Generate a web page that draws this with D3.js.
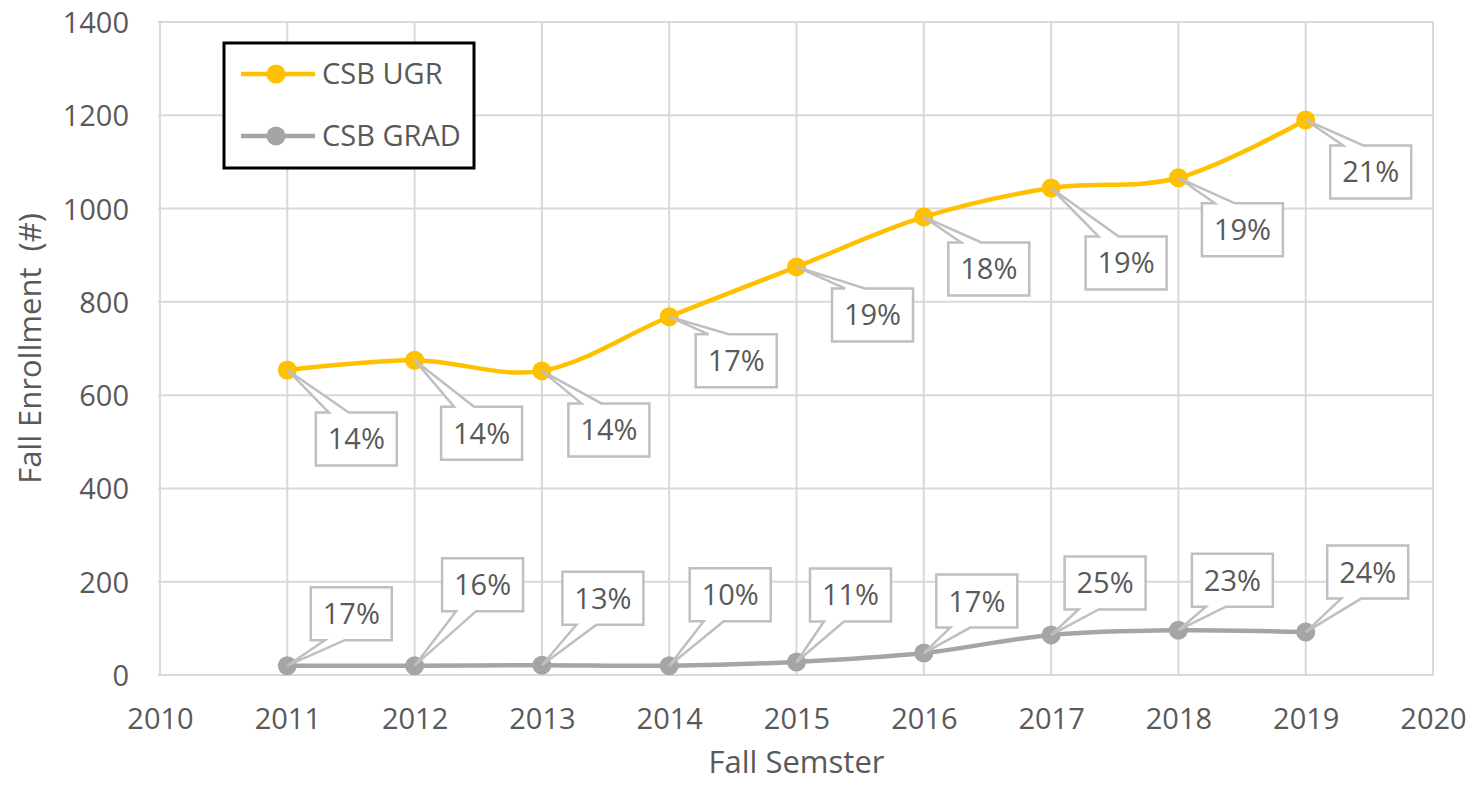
<!DOCTYPE html>
<html>
<head>
<meta charset="utf-8">
<script src="https://cdn.jsdelivr.net/npm/d3@7"></script>
<style>
  html, body { margin: 0; padding: 0; background: #fff; }
  svg text { font-family: "Open Sans", "DejaVu Sans", sans-serif; fill: #595959; }
</style>
</head>
<body>
<svg id="chart" width="1477" height="788"></svg>
<script>
// ---- data ----
const years = [2011, 2012, 2013, 2014, 2015, 2016, 2017, 2018, 2019];
const ugrValues = [654, 675, 652, 768, 875, 982, 1044, 1066, 1190];
const gradValues = [20, 20, 21, 20, 28, 47, 86, 96, 92];
const ugrShares = ["14%", "14%", "14%", "17%", "19%", "18%", "19%", "19%", "21%"];
const gradShares = ["17%", "16%", "13%", "10%", "11%", "17%", "25%", "23%", "24%"];
const xTicks = [2010, 2011, 2012, 2013, 2014, 2015, 2016, 2017, 2018, 2019, 2020];
const yTicks = [0, 200, 400, 600, 800, 1000, 1200, 1400];
const seriesNames = ["CSB UGR", "CSB GRAD"];

// ---- layout (label callout offsets in px, relative to the point) ----
const ugrLabelDx = [69, 67, 67, 67, 76, 65, 75, 64, 65];
const ugrLabelDy = [69, 73, 59, 44, 48, 52, 75, 52, 52];
const gradLabelDx = [64, 68, 61, 61, 54, 53, 54, 54, 62];
const gradLabelDy = [-52, -81, -67, -71, -67, -52, -52, -50, -60];

const colors = { ugr: "#FFC000", grad: "#A5A5A5" };
const plot = { left: 160, right: 1433, top: 22, bottom: 675 };

const svg = d3.select("#chart");
const x = d3.scaleLinear().domain([2010, 2020]).range([plot.left, plot.right]);
const y = d3.scaleLinear().domain([0, 1400]).range([plot.bottom, plot.top]);

// gridlines
const grid = svg.append("g");
grid.selectAll("line.v").data(xTicks).join("line")
  .attr("x1", d => x(d)).attr("x2", d => x(d))
  .attr("y1", plot.top).attr("y2", plot.bottom)
  .attr("stroke", "#D9D9D9").attr("stroke-width", 2);
grid.selectAll("line.h").data(yTicks).join("line")
  .attr("x1", plot.left - 2).attr("x2", plot.right)
  .attr("y1", d => y(d)).attr("y2", d => y(d))
  .attr("stroke", "#D9D9D9").attr("stroke-width", 2);

// axes using d3 axes (labels only)
const xAxis = svg.append("g").attr("transform", `translate(0,${plot.bottom})`)
  .call(d3.axisBottom(x).tickValues(xTicks).tickFormat(d3.format("d")).tickSize(0).tickPadding(33));
xAxis.select(".domain").remove();
xAxis.selectAll("text").style("font-size", "29px").attr("fill", "#595959");

const yAxis = svg.append("g").attr("transform", `translate(${plot.left},0)`)
  .call(d3.axisLeft(y).tickValues(yTicks).tickFormat(d3.format("d")).tickSize(0).tickPadding(31));
yAxis.select(".domain").remove();
yAxis.selectAll("text").style("font-size", "29px").attr("fill", "#595959").attr("dy", "0.36em");

// axis titles
svg.append("text").attr("x", (plot.left + plot.right) / 2).attr("y", 773)
  .attr("text-anchor", "middle").style("font-size", "31px").text("Fall Semster");
svg.append("text").attr("transform", `translate(41,${(plot.top + plot.bottom) / 2}) rotate(-90)`)
  .attr("text-anchor", "middle").style("font-size", "31px").attr("xml:space", "preserve")
  .text("Fall Enrollment\u00A0 (#)");

// lines
const line = d3.line().x(d => x(d[0])).y(d => y(d[1])).curve(d3.curveCatmullRom.alpha(0));
const ugrData = years.map((yr, i) => [yr, ugrValues[i]]);
const gradData = years.map((yr, i) => [yr, gradValues[i]]);

function drawSeries(data, color) {
  svg.append("path").datum(data).attr("d", line)
    .attr("fill", "none").attr("stroke", color).attr("stroke-width", 4.5)
    .attr("stroke-linejoin", "round").attr("stroke-linecap", "round");
  svg.append("g").selectAll("circle").data(data).join("circle")
    .attr("cx", d => x(d[0])).attr("cy", d => y(d[1])).attr("r", 9.5)
    .attr("fill", color);
}
drawSeries(gradData, colors.grad);
drawSeries(ugrData, colors.ugr);

// callout labels
const boxW = 81, boxH = 53;
function drawCallouts(data, texts, dxs, dys) {
  const g = svg.append("g");
  data.forEach((d, i) => {
    const px = x(d[0]), py = y(d[1]);
    const cx = px + dxs[i], cy = py + dys[i];
    const l = cx - boxW / 2, r = cx + boxW / 2, t = cy - boxH / 2, b = cy + boxH / 2;
    let p;
    if (dys[i] > 0) {
      // box below point: wedge on top edge
      p = `M${l},${t} L${l + 13},${t} L${px},${py} L${l + 33},${t} L${r},${t} L${r},${b} L${l},${b} Z`;
    } else {
      // box above point: wedge on bottom edge
      p = `M${l},${t} L${r},${t} L${r},${b} L${l + 34},${b} L${px},${py} L${l + 14},${b} L${l},${b} Z`;
    }
    g.append("path").attr("d", p).attr("fill", "#fff")
      .attr("stroke", "#BFBFBF").attr("stroke-width", 2.5).attr("stroke-linejoin", "miter");
    g.append("text").attr("x", cx).attr("y", cy).attr("dy", "0.36em")
      .attr("text-anchor", "middle").style("font-size", "29px").text(texts[i]);
  });
}
drawCallouts(ugrData, ugrShares, ugrLabelDx, ugrLabelDy);
drawCallouts(gradData, gradShares, gradLabelDx, gradLabelDy);

// legend
const legend = svg.append("g");
legend.append("rect").attr("x", 224).attr("y", 43).attr("width", 250).attr("height", 125)
  .attr("fill", "#fff").attr("stroke", "#000").attr("stroke-width", 3);
const legendColors = [colors.ugr, colors.grad];
seriesNames.forEach((name, i) => {
  const ly = 74 + i * 62;
  legend.append("line").attr("x1", 241).attr("x2", 315).attr("y1", ly).attr("y2", ly)
    .attr("stroke", legendColors[i]).attr("stroke-width", 4.5);
  legend.append("circle").attr("cx", 276).attr("cy", ly).attr("r", 9.5).attr("fill", legendColors[i]);
  legend.append("text").attr("x", 322).attr("y", ly).attr("dy", "0.36em")
    .style("font-size", "29px").text(name);
});
</script>
</body>
</html>
